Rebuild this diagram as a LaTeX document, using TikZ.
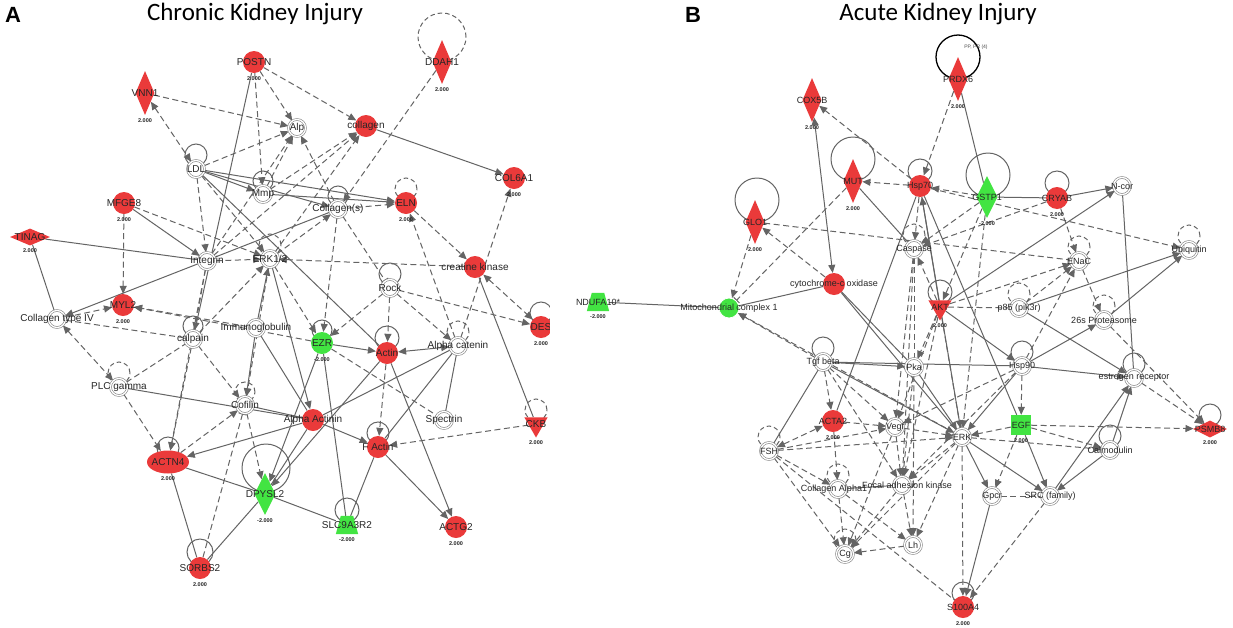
\documentclass[tikz,border=0pt]{standalone}
\usepackage{fontspec}
\setmainfont{Liberation Sans}
\newfontfamily\titlefont{Carlito}
\usetikzlibrary{arrows.meta,calc,shapes.geometric}
\pgfdeclarelayer{bg}
\pgfsetlayers{bg,main}
\definecolor{ired}{RGB}{234,58,58}
\definecolor{igreen}{RGB}{66,228,66}
\definecolor{iedge}{RGB}{100,100,100}
\newcommand\edg[3]{\draw[#1] (#2) -- (#3);}
\newcommand\selfloop[3]{\draw[#3] ($(#1)+(0,-#2-3)$) circle[radius=#2pt];}
\newcommand\trapfill[1]{\fill[igreen] (#1.south west) -- (#1.south east) -- ($(#1.north east)+(-5,0)$) -- ($(#1.north west)+(5,0)$) -- cycle;}
\begin{document}
\begin{tikzpicture}[x=1pt,y=-1pt,
  wn/.style={circle, draw=iedge!80, double=white, double distance=1.3pt, line width=0.6pt, fill=white, minimum size=17pt, inner sep=0pt},
  rn/.style={circle, fill=ired, minimum size=22pt, inner sep=0pt},
  gn/.style={circle, fill=igreen, minimum size=22pt, inner sep=0pt},
  rdia/.style={diamond, fill=ired, minimum width=19pt, minimum height=44pt, inner sep=0pt},
  gdia/.style={diamond, fill=igreen, minimum width=21pt, minimum height=42pt, inner sep=0pt},
  rdiah/.style={diamond, fill=ired, minimum width=40pt, minimum height=17pt, inner sep=0pt},
  rtri/.style={regular polygon, regular polygon sides=3, shape border rotate=180, fill=ired, minimum size=27pt, inner sep=0pt},
  gtrap/.style={rectangle, minimum width=22pt, minimum height=18pt, inner sep=0pt},
  gsq/.style={rectangle, fill=igreen, minimum size=20pt, inner sep=0pt},
  rell/.style={ellipse, fill=ired, minimum width=42pt, minimum height=23pt, inner sep=0pt},
  lab/.style={font=\fontsize{10}{10}\selectfont, text=black!85, inner sep=0pt},
  labr/.style={font=\fontsize{9}{9}\selectfont, text=black!85, inner sep=0pt},
  val/.style={font=\fontsize{5.5}{5.5}\selectfont\bfseries, text=black!85, yshift=-3pt, inner sep=0pt},
  es/.style={draw=iedge, line width=1pt},
  ed/.style={draw=iedge, line width=1pt, dash pattern=on 6pt off 3.5pt},
  ar/.style={-{Triangle[length=8pt,width=7pt]}},
  ar2/.style={{Triangle[length=8pt,width=7pt]}-{Triangle[length=8pt,width=7pt]}},
  tb/.style={-{Bar[width=8pt]}},
  ls/.style={draw=iedge, line width=1pt},
  ld/.style={draw=iedge, line width=1pt, dash pattern=on 4.5pt off 3pt}
]
\useasboundingbox (0,0) rectangle (1233,627);
% titles
\node[font=\bfseries\fontsize{22}{22}\selectfont] (tA) at (13,15) {A};
\node[font=\bfseries\fontsize{22}{22}\selectfont] (tB) at (693,15) {B};
\node[font=\titlefont\fontsize{25}{25}\selectfont, anchor=base] (t1) at (255,20) {Chronic Kidney Injury};
\node[font=\titlefont\fontsize{25}{25}\selectfont, anchor=base] (t2) at (938,20) {Acute Kidney Injury};

% ---------------- LEFT nodes ----------------
\node[rn, label={[lab]center:POSTN}, label={[val]below:2.000}] (postn) at (254,62) {};
\node[rdia, label={[lab]center:VNN1}, label={[val]below:2.000}] (vnn) at (145,93) {};
\node[rdia, label={[lab]center:DDAH1}, label={[val]below:2.000}] (ddah) at (442,62) {};
\node[wn, label={[lab]center:Alp}] (alp) at (297,128) {};
\node[rn, label={[lab]center:collagen}] (coll) at (366,126) {};
\node[wn, label={[lab]center:LDL}] (ldl) at (196,169) {};
\node[wn, label={[lab]center:Mmp}] (mmp) at (263,194) {};
\node[rn, label={[lab]center:MFGE8}, label={[val]below:2.000}] (mfge) at (124,203) {};
\node[wn, label={[lab]center:Collagen(s)}] (colls) at (338,209) {};
\node[rn, label={[lab]center:ELN}, label={[val]below:2.000}] (eln) at (406,203) {};
\node[rn, label={[lab]center:COL6A1}, label={[val]below:2.000}] (col6) at (514,178) {};
\node[rdiah, label={[lab]center:TINAG}, label={[val]below:2.000}] (tinag) at (30,237) {};
\node[wn, label={[lab]center:Integrin}] (integ) at (207,261) {};
\node[wn, label={[lab]center:ERK1/2}] (erk12) at (270,259) {};
\node[rn, label={[lab]center:creatine kinase}] (ck) at (475,267) {};
\node[wn, label={[lab]center:Rock}] (rock) at (390,288) {};
\node[rn, label={[lab]center:MYL2}, label={[val]below:2.000}] (myl2) at (123,305) {};
\node[wn, label={[lab]center:Collagen type IV}] (col4) at (57,319) {};
\node[wn, label={[lab]center:Immunoglobulin}] (immu) at (256,328) {};
\node[wn, label={[lab]center:calpain}] (calp) at (193,339) {};
\node[gn, label={[lab]center:EZR}, label={[val]below:-2.000}] (ezr) at (322,343) {};
\node[rn, label={[lab]center:Actin}] (actin) at (387,353) {};
\node[wn, label={[lab]center:Alpha catenin}] (acat) at (458,346) {};
\node[rn, label={[lab]center:DES}, label={[val]below:2.000}] (des) at (541,327) {};
\node[wn, label={[lab]center:PLC gamma}] (plc) at (119,387) {};
\node[wn, label={[lab]center:Cofilin}] (cof) at (245,405) {};
\node[rn, label={[lab]center:Alpha Actinin}] (aact) at (313,420) {};
\node[wn, label={[lab]center:Spectrin}] (spec) at (444,420) {};
\node[rtri, label={[lab]center:CKB}, label={[val]below:2.000}] (ckb) at (536,424) {};
\node[rn, label={[lab]center:F Actin}] (fact) at (378,447) {};
\node[rell, label={[lab]center:ACTN4}, label={[val]below:2.000}] (actn4) at (168,462) {};
\node[gdia, label={[lab]center:DPYSL2}, label={[val]below:-2.000}] (dpysl) at (265,494) {};
\node[gtrap, label={[lab]center:SLC9A3R2}, label={[val]below:-2.000}] (slc) at (347,525) {};
\node[rn, label={[lab]center:ACTG2}, label={[val]below:2.000}] (actg2) at (456,527) {};
\node[rn, label={[lab]center:SORBS2}, label={[val]below:2.000}] (sorbs) at (200,568) {};

% ---------------- RIGHT nodes ----------------
\node[rdia, label={[labr]center:PRDX6}, label={[val]below:2.000}] (prdx) at (958,79) {};
\node[rdia, label={[labr]center:COX5B}, label={[val]below:2.000}] (cox5b) at (812,100) {};
\node[rdia, label={[labr]center:MUT}, label={[val]below:2.000}] (mut) at (853,181) {};
\node[rdia, label={[labr]center:GLO1}, label={[val]below:2.000}] (glo1) at (755,222) {};
\node[rn, label={[labr]center:Hsp70}] (hsp70) at (920,186) {};
\node[gdia, label={[labr]center:GSTP1}, label={[val]below:-2.000}] (gstp) at (987,197) {};
\node[rn, label={[labr]center:CRYAB}, label={[val]below:2.000}] (cryab) at (1057,198) {};
\node[wn, label={[labr]center:N-cor}] (ncor) at (1122,186) {};
\node[wn, label={[labr]center:Caspase}] (casp) at (914,249) {};
\node[wn, label={[labr]center:ENaC}] (enac) at (1079,261) {};
\node[wn, label={[labr]center:Ubiquitin}] (ubiq) at (1189,250) {};
\node[rn, label={[labr]center:cytochrome-c oxidase}] (cytc) at (834,284) {};
\node[gtrap, label={[labr]center:NDUFA10*}, label={[val]below:-2.000}] (ndufa) at (598,302) {};
\node[gn, draw=white, line width=0.8pt, minimum size=20pt, label={[labr]center:Mitochondrial complex 1}] (mito) at (729,308) {};
\node[rtri, label={[labr]center:AKT}, label={[val]below:2.000}] (akt) at (940,307) {};
\node[wn, label={[labr]center:p85 (pik3r)}] (p85) at (1019,308) {};
\node[wn, label={[labr]center:26s Proteasome}] (prot26) at (1104,320) {};
\node[wn, label={[labr]center:Tgf beta}] (tgfb) at (823,362) {};
\node[wn, label={[labr]center:Pka}] (pka) at (914,367) {};
\node[wn, label={[labr]center:Hsp90}] (hsp90) at (1022,366) {};
\node[wn, label={[labr]center:estrogen receptor}] (esr) at (1134,378) {};
\node[rn, label={[labr]center:ACTA2}, label={[val]below:2.000}] (acta2) at (833,421) {};
\node[wn, label={[labr]center:Vegf}] (vegf) at (895,427) {};
\node[wn, label={[labr]center:ERK}] (erk) at (962,437) {};
\node[gsq, label={[labr]center:EGF}, label={[val]below:2.000}] (egf) at (1021,425) {};
\node[rdiah, minimum width=34pt, label={[labr]center:PSMB8}, label={[val]below:2.000}] (psmb8) at (1210,429) {};
\node[wn, label={[labr]center:FSH}] (fsh) at (769,451) {};
\node[wn, label={[labr]center:Calmodulin}] (calm) at (1110,450) {};
\node[wn, label={[labr,xshift=-4pt]center:Collagen Alpha1}] (colA) at (838,489) {};
\node[wn, label={[labr,xshift=5pt]center:Focal adhesion kinase}] (fak) at (902,485) {};
\node[wn, label={[labr]center:Gpcr}] (gpcr) at (992,496) {};
\node[wn, label={[labr]center:SRC (family)}] (src) at (1050,496) {};
\node[wn, label={[labr]center:Cg}] (cg) at (845,554) {};
\node[wn, label={[labr]center:Lh}] (lh) at (913,545) {};
\node[rn, label={[labr]center:S100A4}, label={[val]below:2.000}] (s100) at (963,607) {};
\node[font=\fontsize{5}{5}\selectfont, text=black!70] (pplab) at (976,47) {PP, PR (4)};

\begin{pgfonlayer}{bg}
\fill[white] (0,0) rectangle (1233,627);
% self loops left
\selfloop{ldl}{11}{ls}
\selfloop{mmp}{10}{ls}
\selfloop{colls}{10}{ls}
\selfloop{eln}{11}{ld}
\draw[ld] (442,37) circle[radius=24pt];
\selfloop{erk12}{11}{ld}
\selfloop{rock}{11}{ls}
\selfloop{calp}{10}{ls}
\selfloop{ezr}{10}{ls}
\selfloop{actin}{12}{ls}
\selfloop{acat}{11}{ld}
\selfloop{des}{11}{ls}
\selfloop{plc}{11}{ld}
\selfloop{cof}{10}{ld}
\selfloop{ckb}{11}{ld}
\selfloop{fact}{11}{ls}
\selfloop{actn4}{11}{ls}
\draw[ls] (266,468) circle[radius=24pt];
\selfloop{slc}{12}{ls}
\selfloop{sorbs}{13}{ls}
% self loops right
\draw[draw=black, line width=1.3pt] (958,57) circle[radius=22pt];
\draw[ls] (853,159) circle[radius=22pt];
\draw[ls] (757,200) circle[radius=22pt];
\selfloop{hsp70}{12}{ls}
\draw[ls] (988,175) circle[radius=22pt];
\selfloop{cryab}{12}{ls}
\selfloop{casp}{11}{ld}
\selfloop{enac}{11}{ld}
\selfloop{ubiq}{11}{ld}
\selfloop{akt}{12}{ls}
\selfloop{p85}{11}{ld}
\selfloop{prot26}{11}{ld}
\selfloop{tgfb}{11}{ls}
\selfloop{hsp90}{11}{ls}
\selfloop{esr}{11}{ls}
\selfloop{psmb8}{11}{ls}
\selfloop{fsh}{11}{ld}
\selfloop{calm}{11}{ls}
\selfloop{colA}{11}{ld}
\selfloop{cg}{11}{ld}
\selfloop{s100}{11}{ls}

% ---------------- LEFT edges ----------------
\edg{ed,ar}{postn}{alp}
\edg{ed,ar}{postn}{mmp}
\edg{ed,ar}{postn}{coll}
\edg{es}{postn}{calp}
\edg{ed,ar2}{vnn}{ldl}
\edg{ed,ar}{vnn}{alp}
\edg{ed,ar}{ldl}{alp}
\edg{es,ar}{ldl}{mmp}
\edg{es,ar}{ldl}{eln}
\edg{es,ar}{ldl}{colls}
\edg{ed,ar}{ldl}{erk12}
\edg{ed,ar}{ldl}{integ}
\edg{es}{ldl}{actin}
\edg{es,ar}{coll}{col6}
\edg{ed,ar}{ddah}{colls}
\edg{ed,ar}{mmp}{coll}
\edg{ed,ar}{mmp}{alp}
\edg{es,ar}{mmp}{eln}
\edg{ed,ar}{colls}{alp}
\edg{ed,ar}{colls}{eln}
\edg{ed,tb}{colls}{rock}
\edg{es,ar}{colls}{col4}
\edg{ed,ar}{colls}{ezr}
\edg{ed,ar}{eln}{ck}
\edg{ed,ar}{acat}{eln}
\edg{ed,ar}{acat}{col6}
\edg{ed,ar2}{ck}{des}
\edg{es}{ck}{ckb}
\edg{ed,ar}{ck}{erk12}
\edg{es}{tinag}{integ}
\edg{es}{tinag}{col4}
\edg{es,ar}{mfge}{integ}
\edg{ed,ar}{mfge}{erk12}
\edg{ed,ar}{mfge}{myl2}
\edg{ed,ar}{col4}{myl2}
\edg{ed,ar2}{col4}{plc}
\edg{ed}{col4}{calp}
\edg{ed,ar}{immu}{myl2}
\edg{ed,ar}{ezr}{myl2}
\edg{ed,ar}{integ}{erk12}
\edg{ed,ar}{integ}{calp}
\edg{ed,ar}{integ}{alp}
\edg{ed,ar}{integ}{coll}
\edg{es,ar}{immu}{erk12}
\edg{es,ar}{immu}{cof}
\edg{ed,ar}{calp}{erk12}
\edg{ed}{plc}{calp}
\edg{ed,ar}{rock}{actin}
\edg{ed,ar}{rock}{des}
\edg{ed,ar}{rock}{acat}
\edg{ed,ar}{rock}{ezr}
\edg{es,ar}{ezr}{actin}
\edg{es,ar2}{actin}{acat}
\edg{es,ar}{actin}{actg2}
\edg{ed,ar}{actin}{fact}
\edg{es}{acat}{fact}
\edg{es}{acat}{spec}
\edg{es}{acat}{aact}
\edg{ed,ar}{ckb}{fact}
\edg{es,ar}{fact}{actg2}
\edg{es,ar}{aact}{fact}
\edg{es,ar}{aact}{actn4}
\edg{es}{aact}{dpysl}
\edg{es}{actn4}{sorbs}
\edg{es}{actn4}{dpysl}
\edg{ed,ar}{actn4}{cof}
\edg{ed,ar}{cof}{dpysl}
\edg{ed,tb}{sorbs}{cof}
\edg{es}{sorbs}{dpysl}
\edg{es}{dpysl}{slc}
\edg{es}{slc}{fact}
\edg{es}{slc}{ezr}
\edg{es}{plc}{aact}
\edg{ed,ar}{plc}{actn4}
\edg{ed,ar}{calp}{actn4}
\edg{ed,ar}{integ}{actn4}
\edg{es,ar}{ezr}{dpysl}
\edg{es,ar}{actin}{dpysl}
\edg{es}{immu}{aact}
\edg{ed,ar}{erk12}{ezr}
\edg{es,ar}{erk12}{aact}
\edg{es}{cof}{aact}
\edg{ed}{ezr}{spec}
\edg{ed,ar}{erk12}{cof}
\edg{ed,ar}{calp}{cof}
\edg{ed,ar}{erk12}{coll}
\edg{ed,ar}{erk12}{colls}

% ---------------- RIGHT edges ----------------
\edg{es}{prdx}{gstp}
\edg{ed,ar}{prdx}{hsp70}
\edg{ed,ar}{hsp70}{cox5b}
\edg{es,ar2}{cytc}{cox5b}
\edg{es}{mut}{casp}
\edg{ed,ar}{hsp70}{mut}
\edg{ed,tb}{mut}{mito}
\edg{ed,ar}{glo1}{mito}
\edg{ed,ar}{cytc}{glo1}
\edg{ed}{glo1}{enac}
\edg{es}{ndufa}{mito}
\edg{es}{mito}{cytc}
\edg{ed,ar}{erk}{mito}
\edg{ed,ar}{gstp}{hsp70}
\edg{es}{gstp}{cryab}
\edg{es,ar}{cryab}{ncor}
\edg{es}{ncor}{esr}
\edg{ed,ar}{hsp70}{ubiq}
\edg{es,ar}{akt}{ncor}
\edg{ed}{akt}{p85}
\edg{ed,ar}{akt}{enac}
\edg{ed,ar}{akt}{casp}
\edg{es,ar}{akt}{hsp70}
\edg{ed,ar}{akt}{pka}
\edg{ed,ar}{akt}{erk}
\edg{ed,ar}{akt}{vegf}
\edg{ed,ar}{akt}{fak}
\edg{es,ar}{akt}{hsp90}
\edg{es,ar}{p85}{ubiq}
\edg{es,ar}{p85}{esr}
\edg{ed,ar}{p85}{enac}
\edg{ed,ar}{hsp90}{enac}
\edg{es,ar}{hsp90}{prot26}
\edg{es,ar}{hsp90}{esr}
\edg{es,ar}{prot26}{ubiq}
\edg{ed,ar}{prot26}{psmb8}
\edg{ed,ar}{enac}{prot26}
\edg{ed,ar}{esr}{psmb8}
\edg{ed,ar}{egf}{psmb8}
\edg{es,ar}{calm}{esr}
\edg{es,ar}{src}{esr}
\edg{es,ar}{calm}{src}
\edg{ed,ar}{egf}{calm}
\edg{es,ar}{egf}{src}
\edg{ed,ar}{egf}{gpcr}
\edg{ed,ar}{egf}{erk}
\edg{es,ar}{gpcr}{s100}
\edg{ed,ar}{src}{s100}
\edg{ed,ar}{erk}{s100}
\edg{ed,ar2}{fsh}{acta2}
\edg{ed,ar}{fsh}{vegf}
\edg{ed,ar}{fsh}{erk}
\edg{ed,ar}{fsh}{colA}
\edg{ed,ar}{fsh}{cg}
\edg{ed}{fsh}{s100}
\edg{ed,ar}{tgfb}{acta2}
\edg{ed,ar}{tgfb}{vegf}
\edg{es,ar}{tgfb}{pka}
\edg{es,ar}{tgfb}{erk}
\edg{ed,ar}{tgfb}{fak}
\edg{es}{tgfb}{hsp90}
\edg{ed,ar}{tgfb}{mito}
\edg{es}{tgfb}{fsh}
\edg{ed,ar}{acta2}{colA}
\edg{ed,ar}{acta2}{vegf}
\edg{ed,ar}{colA}{cg}
\edg{ed,ar}{lh}{cg}
\edg{ed,ar}{fak}{cg}
\edg{ed,ar}{fak}{lh}
\edg{es}{colA}{fak}
\edg{ed,ar}{colA}{lh}
\edg{ed}{casp}{pka}
\edg{ed,ar}{casp}{vegf}
\edg{ed,ar}{casp}{fak}
\edg{es}{hsp70}{acta2}
\edg{es}{hsp70}{erk}
\edg{es}{hsp70}{egf}
\edg{es}{cytc}{erk}
\edg{es}{cytc}{pka}
\edg{ed,ar}{gstp}{casp}
\edg{ed,ar}{gstp}{erk}
\edg{ed,ar}{gstp}{akt}
\edg{es,ar}{pka}{erk}
\edg{ed,ar}{vegf}{erk}
\edg{es,ar}{erk}{gpcr}
\edg{es,ar}{erk}{src}
\edg{ed,ar}{erk}{calm}
\edg{ed,ar}{pka}{fak}
\edg{ed,ar}{vegf}{fak}
\edg{ed,ar}{erk}{fak}
\edg{es,ar}{hsp90}{erk}
\edg{ed,ar}{hsp90}{egf}
\edg{ed,ar}{hsp90}{vegf}
\edg{ed,ar}{hsp90}{fak}
\edg{ed,ar}{cryab}{enac}
\edg{ed,ar}{hsp70}{casp}
\edg{ed,ar}{cryab}{casp}
\edg{ed}{gpcr}{src}
\edg{ed,ar}{pka}{lh}
\edg{ed,ar}{vegf}{cg}
\edg{ed,ar}{erk}{lh}
\edg{ed,ar}{erk}{cg}
% trapezoid shapes
\trapfill{slc}
\trapfill{ndufa}
\end{pgfonlayer}
% crop of left panel
\fill[white] (550,300) rectangle (572,360);
\end{tikzpicture}
\end{document}
